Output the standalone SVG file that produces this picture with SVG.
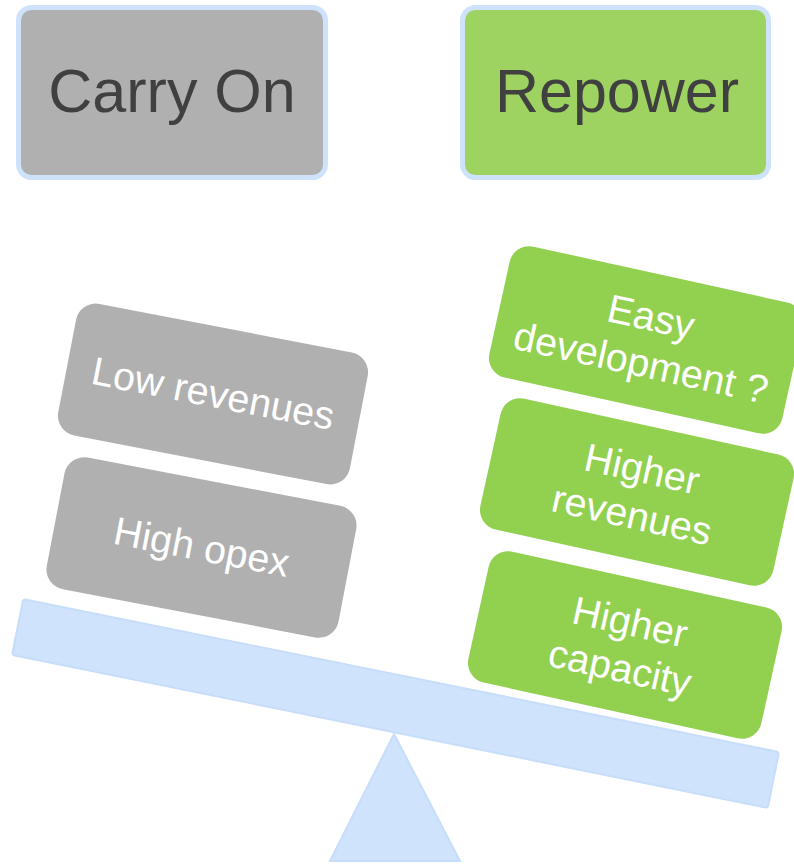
<svg xmlns="http://www.w3.org/2000/svg" width="794" height="864" viewBox="0 0 794 864">
<style>
.hdr{stroke:#cfe2fb;stroke-width:5}
.grey{fill:#b0b0b0}
.green{fill:#92d050}
.ht{font-family:"Liberation Sans",Arial,sans-serif;font-size:61px;fill:#404040;text-anchor:middle}
.bt{font-family:"Liberation Sans",Arial,sans-serif;font-size:39.5px;fill:#ffffff;text-anchor:middle}
.blue{fill:#cfe3fc;stroke:#c7ddfa;stroke-width:2}
</style>
<rect width="794" height="864" fill="#ffffff"/>
<g id="carry-on">
<rect class="hdr" x="18.5" y="7.5" width="307" height="170" rx="13" fill="#b0b0b0"/>
<text class="ht" x="172" y="112">Carry On</text>
</g>
<g id="repower">
<rect class="hdr" x="462.5" y="7.5" width="306" height="170" rx="13" fill="#9ed362"/>
<text class="ht" x="617" y="112">Repower</text>
</g>
<g id="fulcrum">
<polygon class="blue" points="394,734 460,861 330,861"/>
</g>
<g id="beam">
<rect class="blue" transform="translate(395.5 703.5) rotate(11.44)" x="-385.5" y="-28.5" width="771" height="57" rx="3"/>
</g>
<g id="low-revenues" transform="translate(213 394) rotate(10.9)">
<rect class="grey" x="-148.5" y="-67" width="297" height="134" rx="20"/>
<text class="bt" x="0" y="13">Low revenues</text>
</g>
<g id="high-opex" transform="translate(201.5 547.5) rotate(10.8)">
<rect class="grey" x="-148.5" y="-67" width="297" height="134" rx="20"/>
<text class="bt" x="0" y="13">High opex</text>
</g>
<g id="easy-development" transform="translate(646 340) rotate(12.4)">
<rect class="green" x="-150" y="-67" width="300" height="134" rx="20"/>
<text class="bt" x="0" y="-10">Easy</text>
<text class="bt" x="0" y="37">development ?</text>
</g>
<g id="higher-revenues" transform="translate(637 492) rotate(12.4)">
<rect class="green" x="-150" y="-67" width="300" height="134" rx="20"/>
<text class="bt" x="0" y="-10">Higher</text>
<text class="bt" x="0" y="37">revenues</text>
</g>
<g id="higher-capacity" transform="translate(625 645) rotate(12.4)">
<rect class="green" x="-150" y="-67" width="300" height="134" rx="20"/>
<text class="bt" x="0" y="-10">Higher</text>
<text class="bt" x="0" y="37">capacity</text>
</g>
<g id="connectors"></g>
</svg>
